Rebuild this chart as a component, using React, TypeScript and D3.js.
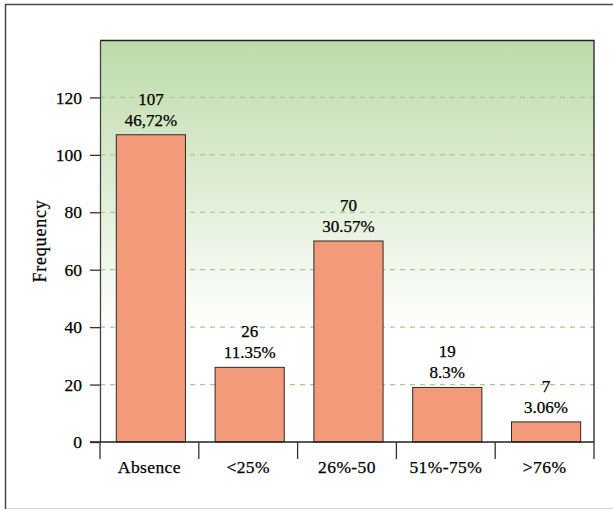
import React, { useEffect, useRef } from "react";
import * as d3 from "d3";

// Data
const categories = ["Absence", "<25%", "26%-50", "51%-75%", ">76%"];
const counts = [107, 26, 70, 19, 7];
const percents = ["46,72%", "11.35%", "30.57%", "8.3%", "3.06%"];
const yTicks = [0, 20, 40, 60, 80, 100, 120];

const App = () => {
  const svgRef = useRef<SVGSVGElement>(null);

  useEffect(() => {
    const width = 613;
    const height = 509;
    const margin = { top: 40, right: 19, bottom: 67, left: 100 };
    const font = "'Liberation Serif', 'Times New Roman', serif";
    const ink = "#000";

    const svg = d3.select(svgRef.current);
    svg.selectAll("*").remove();
    svg.attr("width", width).attr("height", height);

    const innerW = width - margin.left - margin.right;
    const innerH = height - margin.top - margin.bottom;

    // outer frame (right side runs off the picture)
    svg
      .append("rect")
      .attr("x", 5.5)
      .attr("y", 4.5)
      .attr("width", 700)
      .attr("height", 505)
      .attr("fill", "none")
      .attr("stroke", "#4a4a4a")
      .attr("stroke-width", 1.5);

    const defs = svg.append("defs");
    const grad = defs
      .append("linearGradient")
      .attr("id", "bg-grad")
      .attr("x1", 0)
      .attr("y1", 0)
      .attr("x2", 0)
      .attr("y2", 1);
    grad.append("stop").attr("offset", "0%").attr("stop-color", "#bddba9");
    grad.append("stop").attr("offset", "72%").attr("stop-color", "#ffffff");
    grad.append("stop").attr("offset", "100%").attr("stop-color", "#ffffff");

    const g = svg
      .append("g")
      .attr("transform", `translate(${margin.left},${margin.top})`);

    const x = d3
      .scaleBand()
      .domain(categories)
      .range([0, innerW])
      .paddingInner(0.3)
      .paddingOuter(0.15)
      .align(0.55);

    const y = d3.scaleLinear().domain([0, 140]).range([innerH, 0]);

    // background
    g.append("rect")
      .attr("width", innerW)
      .attr("height", innerH)
      .attr("fill", "url(#bg-grad)");

    // dashed grid
    g.append("g")
      .selectAll("line")
      .data(yTicks.filter((d) => d > 0))
      .enter()
      .append("line")
      .attr("x1", 0)
      .attr("x2", innerW)
      .attr("y1", (d) => y(d))
      .attr("y2", (d) => y(d))
      .attr("stroke", "#a9c993")
      .attr("stroke-width", 1.2)
      .attr("stroke-dasharray", "5,5");

    // bars
    g.append("g")
      .selectAll("rect")
      .data(counts)
      .enter()
      .append("rect")
      .attr("x", (d, i) => x(categories[i]))
      .attr("y", (d) => y(d))
      .attr("width", x.bandwidth())
      .attr("height", (d) => innerH - y(d))
      .attr("fill", "#f29a7a")
      .attr("stroke", "#2b2b2b")
      .attr("stroke-width", 1);

    // value labels
    const labels = g
      .append("g")
      .style("font-family", font)
      .style("font-size", "17px")
      .attr("fill", ink)
      .attr("stroke", ink)
      .attr("stroke-width", 0.25);
    counts.forEach((d, i) => {
      const cx = x(categories[i]) + x.bandwidth() / 2;
      labels
        .append("text")
        .attr("x", cx)
        .attr("y", y(d) - 30)
        .attr("text-anchor", "middle")
        .text(d);
      labels
        .append("text")
        .attr("x", cx)
        .attr("y", y(d) - 9)
        .attr("text-anchor", "middle")
        .text(percents[i]);
    });

    // frame top and right
    g.append("path")
      .attr("d", `M0,0.5H${innerW}V${innerH}`)
      .attr("fill", "none")
      .attr("stroke", "#222")
      .attr("stroke-width", 1.3);

    // y axis
    const yAxis = g
      .append("g")
      .call(d3.axisLeft(y).tickValues(yTicks).tickSize(10).tickPadding(8).tickSizeOuter(0));
    yAxis.select(".domain").attr("stroke", "#444").attr("stroke-width", 1.3);
    yAxis.selectAll(".tick line").attr("stroke", "#333").attr("stroke-width", 1.3);
    yAxis
      .selectAll("text")
      .style("font-family", font)
      .style("font-size", "17.5px")
      .attr("fill", ink)
      .attr("stroke", ink)
      .attr("stroke-width", 0.25);

    // x axis: ticks on the band edges
    const xAxisG = g.append("g").attr("transform", `translate(0,${innerH})`);
    xAxisG
      .append("line")
      .attr("x1", -10)
      .attr("x2", innerW)
      .attr("stroke", "#222")
      .attr("stroke-width", 1.3);
    const step = x.step();
    const edges = d3.range(categories.length + 1).map((i) => i * step);
    xAxisG
      .selectAll(".edge")
      .data(edges)
      .enter()
      .append("line")
      .attr("x1", (d) => d)
      .attr("x2", (d) => d)
      .attr("y1", 0)
      .attr("y2", 17)
      .attr("stroke", "#333")
      .attr("stroke-width", 1.3);
    xAxisG
      .selectAll(".cat")
      .data(categories)
      .enter()
      .append("text")
      .attr("x", (d, i) => (edges[i] + edges[i + 1]) / 2)
      .attr("y", 31)
      .attr("text-anchor", "middle")
      .style("font-family", font)
      .style("font-size", "17.5px")
      .style("letter-spacing", "0.4px")
      .attr("fill", ink)
      .attr("stroke", ink)
      .attr("stroke-width", 0.25)
      .text((d) => d);

    // y axis title
    svg
      .append("text")
      .attr("transform", `translate(46,${margin.top + innerH / 2}) rotate(-90)`)
      .attr("text-anchor", "middle")
      .style("font-family", font)
      .style("font-size", "18px")
      .style("letter-spacing", "0.8px")
      .attr("fill", ink)
      .attr("stroke", ink)
      .attr("stroke-width", 0.25)
      .text("Frequency");
  }, []);

  return (
    <div style={{ position: "absolute", left: 0, top: 0, background: "#fff" }}>
      <svg ref={svgRef} style={{ display: "block" }} />
    </div>
  );
};

export default App;
